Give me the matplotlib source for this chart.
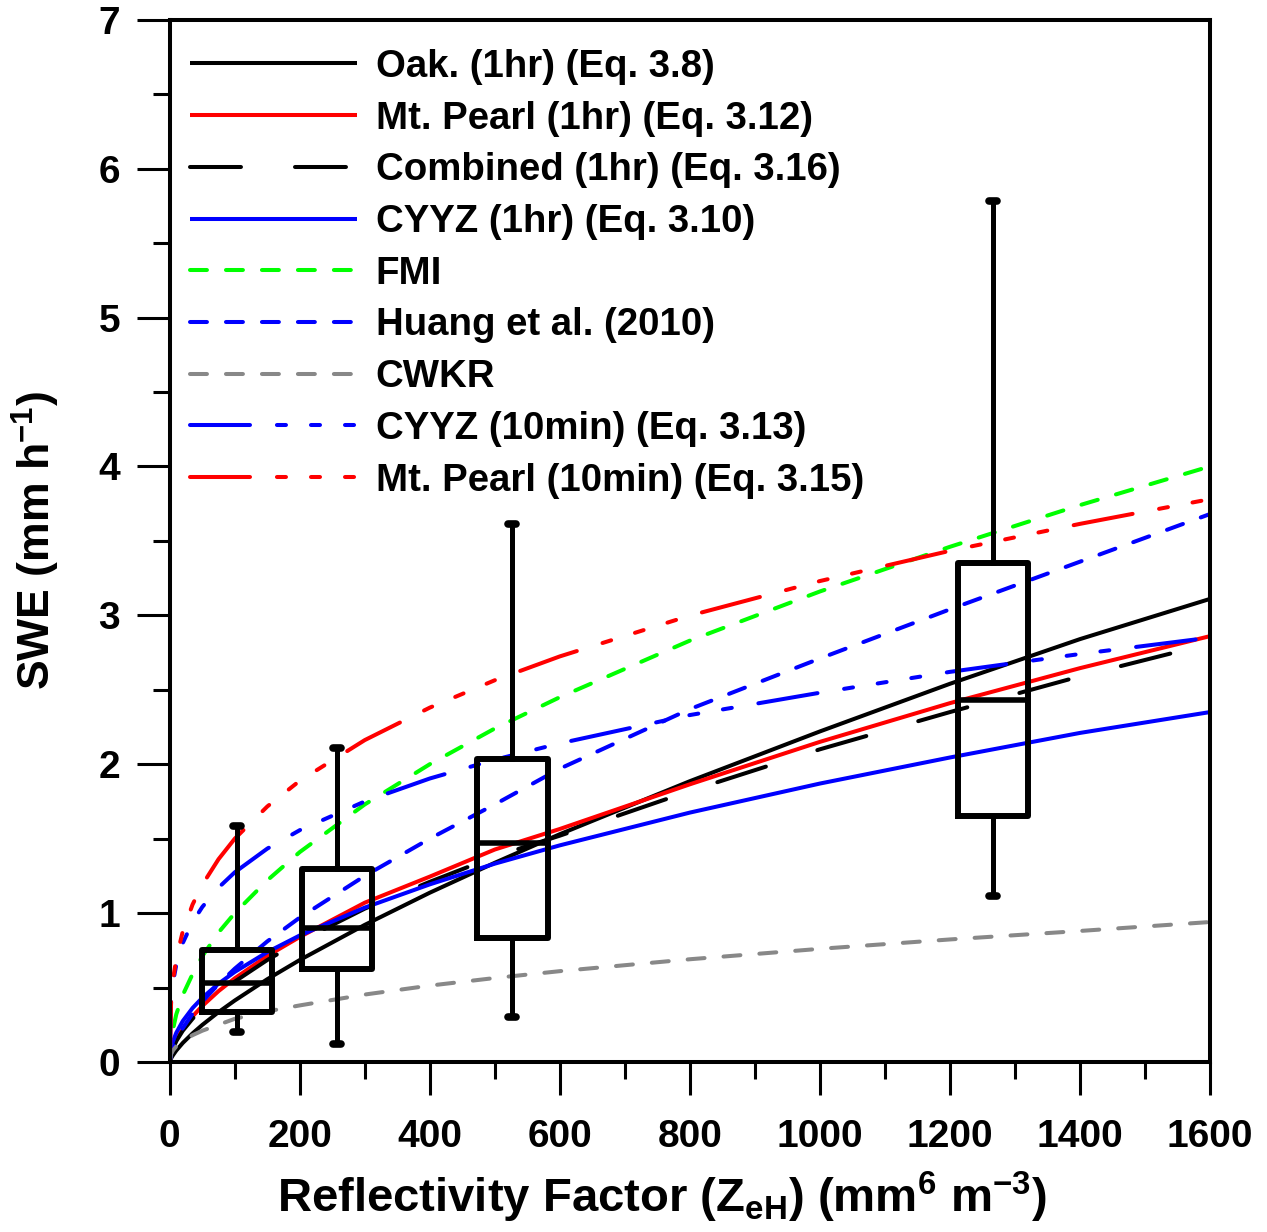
import numpy as np
import matplotlib
matplotlib.use("Agg")
import matplotlib.pyplot as plt

plt.rcParams['font.family'] = ['Liberation Sans', 'DejaVu Sans']
plt.rcParams['font.weight'] = 'bold'
plt.rcParams['mathtext.fontset'] = 'custom'
plt.rcParams['mathtext.rm'] = 'Liberation Sans:bold'
plt.rcParams['mathtext.bf'] = 'Liberation Sans:bold'
plt.rcParams['mathtext.it'] = 'Liberation Sans:bold'
plt.rcParams['mathtext.default'] = 'bf'
plt.rcParams['lines.scale_dashes'] = False

# reflectivity factor Z (mm^6 m^-3) at which the curves were read
ze = [0, 2, 5, 10, 20, 35, 50, 75, 100, 150, 200, 300, 400, 500, 600, 800, 1000, 1200, 1400, 1600]

# SWE (mm/h)
oak_1hr = [0, 0.024, 0.046, 0.077, 0.128, 0.192, 0.249, 0.335, 0.413, 0.556, 0.685, 0.921, 1.137, 1.338, 1.53, 1.886, 2.22, 2.54, 2.84, 3.11]
mtpearl_1hr = [0, 0.058, 0.099, 0.148, 0.221, 0.306, 0.376, 0.476, 0.562, 0.712, 0.84, 1.07, 1.245, 1.427, 1.565, 1.865, 2.15, 2.41, 2.645, 2.86]
combined_1hr = [0, 0.05, 0.09, 0.14, 0.21, 0.29, 0.36, 0.455, 0.54, 0.685, 0.81, 1.03, 1.21, 1.38, 1.52, 1.82, 2.10, 2.35, 2.59, 2.81]
cyyz_1hr = [0, 0.089, 0.139, 0.196, 0.275, 0.362, 0.431, 0.526, 0.605, 0.738, 0.85, 1.037, 1.193, 1.332, 1.455, 1.675, 1.87, 2.045, 2.21, 2.35]
fmi = [0, 0.14, 0.22, 0.32, 0.45, 0.59, 0.71, 0.87, 1.0, 1.22, 1.41, 1.73, 2.0, 2.24, 2.45, 2.83, 3.16, 3.46, 3.74, 4.0]
huang = [0, 0.053, 0.095, 0.147, 0.227, 0.324, 0.405, 0.523, 0.627, 0.81, 0.97, 1.25, 1.50, 1.73, 1.97, 2.37, 2.71, 3.04, 3.36, 3.68]
cwkr = [0, 0.053, 0.078, 0.105, 0.141, 0.18, 0.21, 0.25, 0.29, 0.34, 0.38, 0.453, 0.513, 0.564, 0.61, 0.69, 0.76, 0.823, 0.88, 0.94]
cyyz_10min = [0, 0.41, 0.534, 0.653, 0.799, 0.939, 1.041, 1.171, 1.274, 1.433, 1.557, 1.75, 1.904, 2.03, 2.14, 2.33, 2.48, 2.62, 2.74, 2.85]
mtpearl_10min = [0, 0.407, 0.552, 0.696, 0.877, 1.057, 1.19, 1.362, 1.50, 1.716, 1.889, 2.162, 2.38, 2.564, 2.724, 2.998, 3.23, 3.433, 3.614, 3.78]

# observed SWE distributions (box plots)
box_pos = [103, 257, 527, 1266]
box_whislo = [0.204, 0.121, 0.304, 1.115]
box_q1 = [0.334, 0.625, 0.83, 1.652]
box_med = [0.53, 0.898, 1.469, 2.431]
box_q3 = [0.752, 1.294, 2.033, 3.353]
box_whishi = [1.587, 2.11, 3.61, 5.78]

labels = ['Oak. (1hr) (Eq. 3.8)', 'Mt. Pearl (1hr) (Eq. 3.12)', 'Combined (1hr) (Eq. 3.16)',
          'CYYZ (1hr) (Eq. 3.10)', 'FMI', 'Huang et al. (2010)', 'CWKR',
          'CYYZ (10min) (Eq. 3.13)', 'Mt. Pearl (10min) (Eq. 3.15)']

fig = plt.figure(figsize=(12.67, 12.32), dpi=100)
ax = fig.add_axes([0.134, 0.138, 0.821, 0.846])

lw = 2.9
short = (0, (12.2, 13.7))
longd = (0, (36.7, 38.9))
dashdot3 = (0, (43.2, 19.4, 6.5, 18, 6.5, 18, 6.5, 19.4))

series = [
    (oak_1hr, 'black', '-'),
    (mtpearl_1hr, '#ff0000', '-'),
    (combined_1hr, 'black', longd),
    (cyyz_1hr, '#0000ff', '-'),
    (fmi, '#00ff00', short),
    (huang, '#0000ff', short),
    (cwkr, '#888888', short),
    (cyyz_10min, '#0000ff', dashdot3),
    (mtpearl_10min, '#ff0000', dashdot3),
]
for (vals, col, ls), lab in zip(series, labels):
    ax.plot(ze, vals, color=col, linestyle=ls, lw=lw, label=lab,
            dash_capstyle='round', solid_capstyle='butt')

stats = []
for i in range(len(box_pos)):
    stats.append({'whislo': box_whislo[i], 'q1': box_q1[i], 'med': box_med[i],
                  'q3': box_q3[i], 'whishi': box_whishi[i], 'fliers': []})
ax.bxp(stats, positions=box_pos, widths=108, showfliers=False, manage_ticks=False,
       boxprops=dict(color='black', lw=4.3),
       medianprops=dict(color='black', lw=4.0),
       whiskerprops=dict(color='black', lw=3.6),
       capprops=dict(color='black', lw=5.5, solid_capstyle='round'),
       capwidths=12)

ax.set_xlim(0, 1600)
ax.set_ylim(0, 7)
ax.set_xticks(np.arange(0, 1601, 200))
ax.set_xticks(np.arange(100, 1600, 200), minor=True)
ax.set_yticks(np.arange(0, 8, 1))
ax.set_yticks(np.arange(0.5, 7, 1), minor=True)
ax.tick_params(which='both', direction='out', width=2.2, top=False, right=False)
ax.tick_params(which='major', length=23.8, labelsize=28)
ax.tick_params(axis='x', which='major', pad=17)
ax.tick_params(axis='y', which='major', pad=12)
ax.tick_params(which='minor', length=12.2)
for sp in ax.spines.values():
    sp.set_linewidth(2.9)

ax.set_xlabel('Reflectivity Factor (Z$_{eH}$) (mm$^{6}$ m$^{-3}$)', fontsize=34, fontweight='bold')
ax.set_ylabel('SWE (mm h$^{-1}$)', fontsize=32, fontweight='bold')
ax.xaxis.set_label_coords(0.473, -0.104)
ax.yaxis.set_label_coords(-0.104, 0.5)

leg = ax.legend(loc='upper left', bbox_to_anchor=(0.019, 0.972), frameon=False,
                fontsize=27.6, handlelength=4.36, handletextpad=0.5,
                labelspacing=0.41, borderpad=0, borderaxespad=0)

fig.savefig('out.png', dpi=100)
